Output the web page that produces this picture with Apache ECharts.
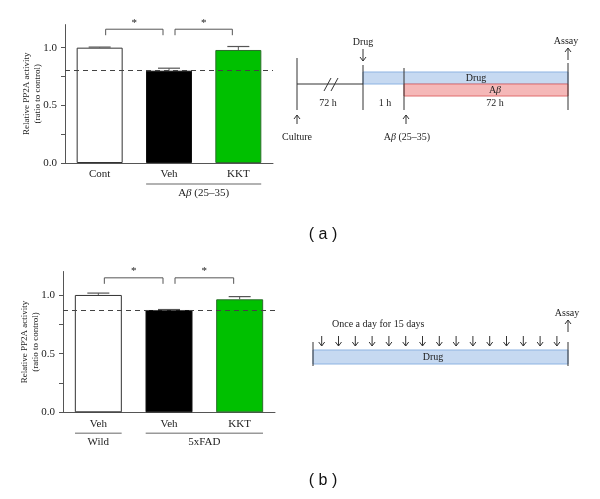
<!DOCTYPE html>
<html><head><meta charset="utf-8">
<script src="https://cdn.jsdelivr.net/npm/echarts@6/dist/echarts.min.js"></script>
<style>html,body{margin:0;padding:0;background:#fff}#c{width:600px;height:499px}</style>
</head><body><div id="c"></div>
<script>
// ---- data ----
var catsA = ['Cont', 'Veh', 'KKT'];
var meansA = [1.0, 0.80, 0.98];
var errsA = [0.005, 0.022, 0.03];
var refA = 0.80;
var bracketsA = [[0, 1, 1.16], [1, 2, 1.16]];
var groupsA = [[1, 2, 'A{b|β} (25–35)']];

var catsB = ['Veh', 'Veh', 'KKT'];
var meansB = [1.0, 0.872, 0.963];
var errsB = [0.016, 0.004, 0.023];
var refB = 0.872;
var bracketsB = [[0, 1, 1.146], [1, 2, 1.146]];
var groupsB = [[0, 0, 'Wild'], [1, 2, '5xFAD']];

var yTicks = [0, 0.25, 0.5, 0.75, 1.0];
var yLabels = [0, 0.5, 1.0];
var barColors = ['#ffffff', '#000000', '#00c000'];
var barBorders = ['#333333', '#111111', '#2b6e2b'];

var serif = 'Liberation Serif';
var chart = echarts.init(document.getElementById('c'), null, {renderer: 'canvas'});

function yAxisOf(gi) {
  return {
    type: 'value', gridIndex: gi, min: 0, max: 1.2,
    name: 'Relative PP2A activity\n(ratio to control)',
    nameLocation: 'middle', nameGap: 22, nameMoveOverlap: false,
    nameTextStyle: {fontFamily: serif, fontSize: 9, color: '#222', lineHeight: 11},
    axisLine: {show: true, lineStyle: {color: '#555', width: 1}},
    axisTick: {show: true, length: 4, customValues: yTicks, lineStyle: {color: '#555'}},
    axisLabel: {customValues: yLabels, fontFamily: serif, fontSize: 11, color: '#222', margin: 8,
      formatter: function (v) { return v.toFixed(1); }},
    splitLine: {show: false}
  };
}
function xAxisOf(gi, cats) {
  return {
    type: 'category', gridIndex: gi, data: cats,
    axisLine: {show: true, lineStyle: {color: '#555', width: 1}},
    axisTick: {show: false},
    axisLabel: {fontFamily: serif, fontSize: 11, color: '#222', margin: 6}
  };
}
function barSeries(gi, means, ref, bw) {
  return {
    type: 'bar', xAxisIndex: gi, yAxisIndex: gi, barWidth: bw,
    data: means.map(function (v, i) {
      return {value: v, itemStyle: {color: barColors[i], borderColor: barBorders[i], borderWidth: 1}};
    }),
    markLine: {
      symbol: 'none', silent: true, label: {show: false},
      lineStyle: {color: '#444', type: [5, 4], width: 1},
      data: [{yAxis: ref}]
    },
    z: 2
  };
}
function errSeries(gi, means, errs) {
  return {
    type: 'custom', xAxisIndex: gi, yAxisIndex: gi, z: 3,
    data: means.map(function (m, i) { return [i, m, m + errs[i]]; }),
    renderItem: function (params, api) {
      var p0 = api.coord([api.value(0), api.value(1)]);
      var p1 = api.coord([api.value(0), api.value(2)]);
      return {type: 'group', children: [
        {type: 'line', shape: {x1: p0[0], y1: p0[1], x2: p1[0], y2: p1[1]}, style: {stroke: '#555', lineWidth: 1}},
        {type: 'line', shape: {x1: p1[0] - 11, y1: p1[1], x2: p1[0] + 11, y2: p1[1]}, style: {stroke: '#555', lineWidth: 1.2}}
      ]};
    }
  };
}
function bracketSeries(gi, brackets) {
  return {
    type: 'custom', xAxisIndex: gi, yAxisIndex: gi, z: 3, clip: false,
    data: brackets,
    renderItem: function (params, api) {
      var a = api.coord([api.value(0), api.value(2)]);
      var b = api.coord([api.value(1), api.value(2)]);
      var x1 = a[0] + 6, x2 = b[0] - 6, y = a[1];
      return {type: 'group', children: [
        {type: 'polyline', shape: {points: [[x1, y + 6], [x1, y], [x2, y], [x2, y + 6]]}, style: {stroke: '#555', lineWidth: 1, fill: null}},
        {type: 'text', style: {text: '*', x: (x1 + x2) / 2, y: y - 1, align: 'center', verticalAlign: 'bottom', fontFamily: serif, fontSize: 11, fill: '#222'}}
      ]};
    }
  };
}
function groupSeries(gi, groups) {
  return {
    type: 'custom', xAxisIndex: gi, yAxisIndex: gi, z: 3, clip: false,
    data: groups,
    renderItem: function (params, api) {
      var half = api.size([1, 0])[0] * 0.33;
      var a = api.coord([api.value(0), 0]);
      var b = api.coord([api.value(1), 0]);
      var g = groups[params.dataIndex];
      var x1 = a[0] - half, x2 = b[0] + half, y = a[1] + 21;
      return {type: 'group', children: [
        {type: 'line', shape: {x1: x1, y1: y, x2: x2, y2: y}, style: {stroke: '#999', lineWidth: 1.5}},
        {type: 'text', style: {text: g[2], x: (x1 + x2) / 2, y: y + 9, align: 'center', verticalAlign: 'middle',
          fontFamily: serif, fontSize: 11, fill: '#222', rich: {b: {fontStyle: 'italic', fontFamily: serif, fontSize: 11}}}}
      ]};
    }
  };
}

// ---- diagram helpers (schematic, pixel layout) ----
var dc = '#333';
function L(x1, y1, x2, y2) { return {type: 'line', shape: {x1: x1, y1: y1, x2: x2, y2: y2}, style: {stroke: dc, lineWidth: 1}}; }
function arrow(x, yFrom, yTo) {
  var d = yTo > yFrom ? -1 : 1;
  return [L(x, yFrom, x, yTo),
    {type: 'polyline', shape: {points: [[x - 3, yTo + d * 4], [x, yTo], [x + 3, yTo + d * 4]]}, style: {stroke: dc, lineWidth: 1, fill: null}}];
}
function T(t, x, y, align, size) {
  return {type: 'text', style: {text: t, x: x, y: y, align: align || 'center', verticalAlign: 'middle',
    fontFamily: serif, fontSize: size || 10, fill: '#222', rich: {b: {fontStyle: 'italic', fontFamily: serif, fontSize: size || 10}}}};
}
var g = [];
// diagram a
g.push({type: 'rect', shape: {x: 363, y: 72, width: 205, height: 12}, style: {fill: '#c6d9f1', stroke: '#8db3e2', lineWidth: 1}});
g.push({type: 'rect', shape: {x: 404, y: 84, width: 164, height: 12}, style: {fill: '#f5b8b8', stroke: '#e06c6c', lineWidth: 1}});
g.push(L(297, 58, 297, 110), L(297, 84, 363, 84), L(363, 65, 363, 110), L(404, 68, 404, 110), L(568, 63, 568, 110));
g.push(L(324, 91, 331, 78), L(331, 91, 338, 78));
g = g.concat(arrow(363, 49, 61), arrow(568, 60, 48), arrow(297, 124, 115), arrow(406, 124, 115));
g.push(T('72 h', 328, 103), T('1 h', 385, 103), T('72 h', 495, 103), T('Drug', 476, 78), T('A{b|β}', 495, 90),
  T('Drug', 363, 42), T('Assay', 566, 41), T('Culture', 297, 137), T('A{b|β} (25–35)', 407, 137));
// diagram b
g.push({type: 'rect', shape: {x: 313, y: 350, width: 255, height: 14}, style: {fill: '#c6d9f1', stroke: '#8db3e2', lineWidth: 1}});
g.push(L(313, 342, 313, 366), L(568, 342, 568, 366));
for (var i = 0; i < 15; i++) { g = g.concat(arrow(321.7 + i * 16.8, 336, 346)); }
g = g.concat(arrow(568, 332, 320));
g.push(T('Once a day for 15 days', 332, 324, 'left'), T('Assay', 567, 313), T('Drug', 433, 357));
// panel labels
g.push({type: 'text', style: {text: '( a )', x: 323, y: 235, align: 'center', verticalAlign: 'middle', fontFamily: 'Liberation Sans', fontSize: 16, fill: '#111'}});
g.push({type: 'text', style: {text: '( b )', x: 323, y: 481, align: 'center', verticalAlign: 'middle', fontFamily: 'Liberation Sans', fontSize: 16, fill: '#111'}});

chart.setOption({
  animation: false,
  backgroundColor: '#fff',
  grid: [
    {left: 65, top: 24.6, width: 208, height: 138.4},
    {left: 63, top: 271.5, width: 212, height: 140.8}
  ],
  xAxis: [xAxisOf(0, catsA), xAxisOf(1, catsB)],
  yAxis: [yAxisOf(0), yAxisOf(1)],
  series: [
    barSeries(0, meansA, refA, 46), errSeries(0, meansA, errsA), bracketSeries(0, bracketsA), groupSeries(0, groupsA),
    barSeries(1, meansB, refB, 47), errSeries(1, meansB, errsB), bracketSeries(1, bracketsB), groupSeries(1, groupsB)
  ],
  graphic: g
});
</script></body></html>
